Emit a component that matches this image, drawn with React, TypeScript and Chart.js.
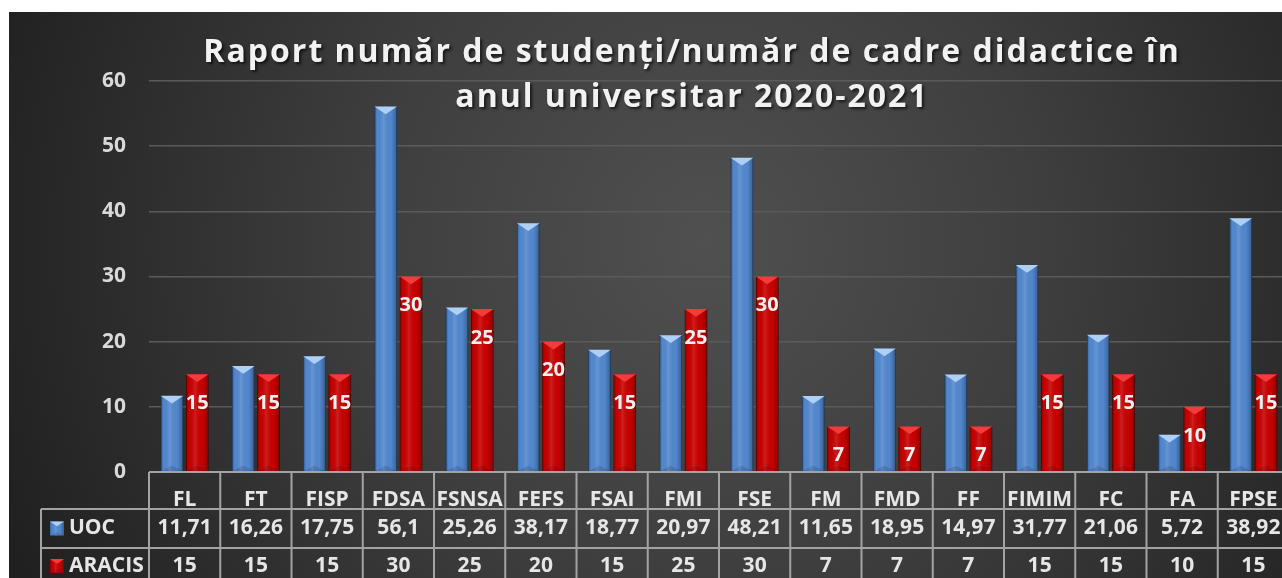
import React, { useEffect, useRef } from "react";
import { Chart, registerables } from "chart.js";

Chart.register(...registerables);

const categories = ["FL", "FT", "FISP", "FDSA", "FSNSA", "FEFS", "FSAI", "FMI", "FSE", "FM", "FMD", "FF", "FIMIM", "FC", "FA", "FPSE"];
const uocValues = [11.71, 16.26, 17.75, 56.1, 25.26, 38.17, 18.77, 20.97, 48.21, 11.65, 18.95, 14.97, 31.77, 21.06, 5.72, 38.92];
const aracisValues = [15, 15, 15, 30, 25, 20, 15, 25, 30, 7, 7, 7, 15, 15, 10, 15];
const seriesNames = ["UOC", "ARACIS"];
const titleLines = ["Raport număr de studenți/număr de cadre didactice în", "anul universitar 2020-2021"];
const yMin = 0;
const yMax = 60;
const yStep = 10;

const FONT = "'Open Sans', 'DejaVu Sans', sans-serif";
const BLUE = "#5288cf";
const BLUE_LIGHT = "#aed0f6";
const BLUE_BORDER = "#2f5590";
const RED = "#c80000";
const RED_LIGHT = "#f23c3c";
const RED_BORDER = "#780000";
const TEXT = "#e6e6e6";
const TABLE_LINE = "#a3a3a3";

const fmt = (v: number) => String(v).replace(".", ",");

function drawBevel(ctx: CanvasRenderingContext2D, l: number, t: number, r: number, b: number, light: string) {
  const w = r - l;
  if (w <= 0 || b <= t) return;
  ctx.save();
  const g = ctx.createLinearGradient(l, 0, r, 0);
  g.addColorStop(0, "rgba(0,0,0,0.28)");
  g.addColorStop(0.14, "rgba(0,0,0,0.0)");
  g.addColorStop(0.4, "rgba(255,255,255,0.12)");
  g.addColorStop(0.72, "rgba(0,0,0,0.0)");
  g.addColorStop(1, "rgba(0,0,0,0.30)");
  ctx.fillStyle = g;
  ctx.fillRect(l, t, w, b - t);
  const h = Math.min(w * 0.34, b - t);
  ctx.beginPath();
  ctx.moveTo(l, t);
  ctx.lineTo(r, t);
  ctx.lineTo((l + r) / 2, t + h);
  ctx.closePath();
  ctx.fillStyle = light;
  ctx.fill();
  ctx.beginPath();
  ctx.moveTo(l, b);
  ctx.lineTo(r, b);
  ctx.lineTo((l + r) / 2, b - h * 0.7);
  ctx.closePath();
  ctx.fillStyle = "rgba(0,0,0,0.13)";
  ctx.fill();
  ctx.restore();
}

const backgroundPlugin = {
  id: "bg",
  beforeDraw(chart: any) {
    const { ctx, width, height } = chart;
    ctx.save();
    const g = ctx.createRadialGradient(width * 0.54, height * 0.4, 0, width * 0.54, height * 0.4, 760);
    g.addColorStop(0, "#505050");
    g.addColorStop(0.45, "#3e3e3e");
    g.addColorStop(1, "#202020");
    ctx.fillStyle = g;
    ctx.fillRect(0, 0, width, height);
    ctx.restore();
  },
};

const barStylePlugin = {
  id: "barStyle",
  afterDatasetsDraw(chart: any) {
    const ctx = chart.ctx;
    chart.data.datasets.forEach((ds: any, di: number) => {
      const meta = chart.getDatasetMeta(di);
      const light = di === 0 ? BLUE_LIGHT : RED_LIGHT;
      meta.data.forEach((el: any) => {
        const p = el.getProps(["x", "y", "base", "width"], true);
        drawBevel(ctx, p.x - p.width / 2, p.y, p.x + p.width / 2, p.base, light);
      });
    });
    const meta = chart.getDatasetMeta(1);
    ctx.save();
    ctx.font = `bold 20px ${FONT}`;
    ctx.fillStyle = "#f2f2f2";
    ctx.textAlign = "center";
    ctx.textBaseline = "middle";
    meta.data.forEach((el: any, i: number) => {
      const p = el.getProps(["x", "y"], true);
      ctx.fillText(String(aracisValues[i]), p.x, p.y + 29);
    });
    ctx.restore();
  },
};

const tablePlugin = {
  id: "dataTable",
  afterDraw(chart: any) {
    const { ctx, height, width } = chart;
    const xs = chart.scales.x;
    const n = categories.length;
    const cw = xs.width / n;
    const y0 = chart.chartArea.bottom;
    const r1 = y0 + 37;
    const r2 = y0 + 76;
    const legendLeft = 32;
    ctx.save();
    ctx.strokeStyle = TABLE_LINE;
    ctx.lineWidth = 2;
    ctx.beginPath();
    ctx.moveTo(xs.left, y0);
    ctx.lineTo(width, y0);
    ctx.moveTo(legendLeft, r1);
    ctx.lineTo(width, r1);
    ctx.moveTo(legendLeft, r2);
    ctx.lineTo(width, r2);
    for (let i = 0; i <= n; i++) {
      const bx = xs.left + i * cw;
      ctx.moveTo(bx, y0);
      ctx.lineTo(bx, height);
    }
    ctx.moveTo(legendLeft, r1);
    ctx.lineTo(legendLeft, height);
    ctx.stroke();

    ctx.font = `bold 21px ${FONT}`;
    ctx.fillStyle = TEXT;
    ctx.textAlign = "center";
    ctx.textBaseline = "middle";
    const c1 = (r1 + r2) / 2;
    const c2 = r2 + 18;
    for (let i = 0; i < n; i++) {
      const cx = xs.getPixelForValue(i);
      ctx.fillText(fmt(uocValues[i]), cx, c1);
      ctx.fillText(fmt(aracisValues[i]), cx, c2);
    }
    const rows = [c1, c2];
    rows.forEach((cy, k) => {
      const base = k === 0 ? BLUE : RED;
      const light = k === 0 ? BLUE_LIGHT : RED_LIGHT;
      const l = 41, s = 14;
      ctx.fillStyle = base;
      ctx.fillRect(l, cy - s / 2, s, s);
      drawBevel(ctx, l, cy - s / 2, l + s, cy + s / 2, light);
      ctx.fillStyle = TEXT;
      ctx.textAlign = "left";
      ctx.fillText(seriesNames[k], 60, cy);
    });
    ctx.restore();
  },
};

const titlePlugin = {
  id: "customTitle",
  afterDraw(chart: any) {
    const ctx = chart.ctx;
    ctx.save();
    ctx.font = `bold 32px ${FONT}`;
    (ctx as any).letterSpacing = "2px";
    ctx.textAlign = "center";
    ctx.textBaseline = "alphabetic";
    ctx.fillStyle = "#f2f2f2";
    ctx.shadowColor = "rgba(0,0,0,0.65)";
    ctx.shadowOffsetX = 2;
    ctx.shadowOffsetY = 2;
    ctx.shadowBlur = 3;
    ctx.fillText(titleLines[0], 683, 50);
    ctx.fillText(titleLines[1], 683, 95);
    ctx.restore();
  },
};

export default function App() {
  const ref = useRef<HTMLCanvasElement>(null);
  useEffect(() => {
    if (!ref.current) return;
    const chart = new Chart(ref.current, {
      type: "bar",
      data: {
        labels: categories,
        datasets: [
          {
            label: seriesNames[0],
            data: uocValues,
            backgroundColor: BLUE,
            borderColor: BLUE_BORDER,
            borderWidth: 1,
            categoryPercentage: 0.71,
            barPercentage: 0.9,
          },
          {
            label: seriesNames[1],
            data: aracisValues,
            backgroundColor: RED,
            borderColor: RED_BORDER,
            borderWidth: 1,
            categoryPercentage: 0.71,
            barPercentage: 0.9,
          },
        ],
      },
      options: {
        animation: false,
        responsive: false,
        devicePixelRatio: 1,
        layout: { padding: { left: 0, top: 69, right: 10, bottom: 81 } },
        plugins: {
          legend: { display: false },
          title: { display: false },
          tooltip: { enabled: false },
        },
        scales: {
          x: {
            grid: { display: false },
            border: { display: false },
            ticks: {
              font: { family: FONT, size: 21, weight: "bold" },
              color: TEXT,
              padding: 7,
              maxRotation: 0,
              autoSkip: false,
            },
            afterFit: (s: any) => {
              s.height = 37;
            },
          },
          y: {
            min: yMin,
            max: yMax,
            grid: { color: "#5a5a5a", lineWidth: 1.5, drawTicks: false },
            border: { display: false },
            ticks: {
              stepSize: yStep,
              font: { family: FONT, size: 21, weight: "bold" },
              color: "#d9d9d9",
              padding: 23,
            },
            afterFit: (s: any) => {
              s.width = 140;
            },
          },
        },
      },
      plugins: [backgroundPlugin, barStylePlugin, tablePlugin, titlePlugin],
    } as any);
    return () => chart.destroy();
  }, []);
  return (
    <div style={{ position: "fixed", left: 9, top: 12, width: 1290, height: 578 }}>
      <canvas ref={ref} width={1290} height={578} style={{ display: "block" }} />
    </div>
  );
}
